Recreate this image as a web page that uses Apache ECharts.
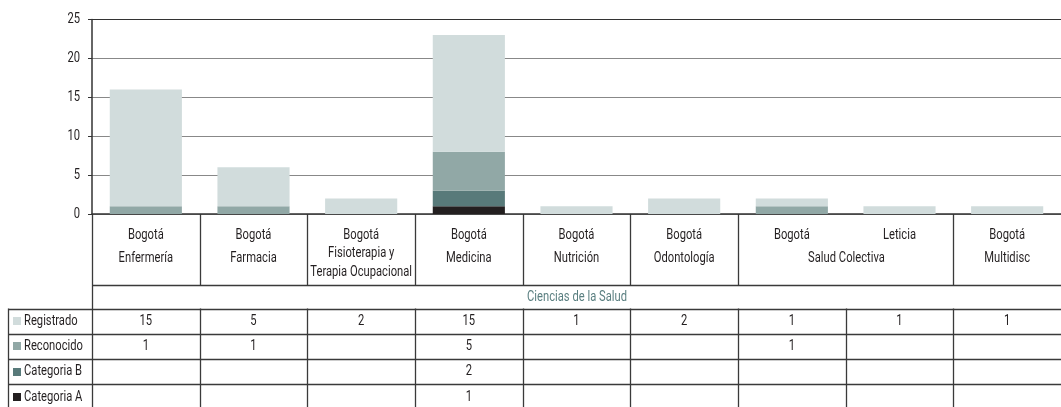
<!DOCTYPE html>
<html>
<head>
<meta charset="utf-8">
<script src="https://cdn.jsdelivr.net/npm/echarts@6/dist/echarts.min.js"></script>
<style>
  html, body { margin: 0; padding: 0; background: #fff; }
  #chart { width: 1061px; height: 407px; }
</style>
</head>
<body>
<div id="chart"></div>
<script>
var FONT = 'Roboto, "Noto Sans", sans-serif';
var SQUEEZE = 0.8; // no condensed face installed, so narrow the text

// data
var sedes = ['Bogotá', 'Bogotá', 'Bogotá', 'Bogotá', 'Bogotá', 'Bogotá', 'Bogotá', 'Leticia', 'Bogotá'];
var programas = ['Enfermería', 'Farmacia', 'Fisioterapia y\nTerapia Ocupacional', 'Medicina', 'Nutrición', 'Odontología', 'Salud Colectiva', 'Salud Colectiva', 'Multidisc'];
var area = 'Ciencias de la Salud';
var registrado = [15, 5, 2, 15, 1, 2, 1, 1, 1];
var reconocido = [1, 1, null, 5, null, null, 1, null, null];
var categoriaB = [null, null, null, 2, null, null, null, null, null];
var categoriaA = [null, null, null, 1, null, null, null, null, null];
var yTicks = [0, 5, 10, 15, 20, 25];

var seriesNames = ['Registrado', 'Reconocido', 'Categoria B', 'Categoria A'];
var seriesData = [registrado, reconocido, categoriaB, categoriaA];
var colors = ['#d1dcdc', '#91a8a6', '#587a7a', '#231f20'];

var chart = echarts.init(document.getElementById('chart'));

var series = [];
for (var s = seriesNames.length - 1; s >= 0; s--) {
  series.push({
    name: seriesNames[s],
    type: 'bar',
    stack: 'total',
    barWidth: '67%',
    data: seriesData[s],
    itemStyle: { color: colors[s], borderWidth: 0 },
    silent: true
  });
}

chart.setOption({
  animation: false,
  grid: { left: 92, right: -9, top: 19.5, bottom: 193 },
  xAxis: {
    type: 'category',
    data: sedes.map(function (d, i) { return d + ' ' + programas[i]; }),
    axisLine: { lineStyle: { color: '#333', width: 1.5 } },
    axisTick: { show: false },
    axisLabel: { show: false }
  },
  yAxis: {
    type: 'value',
    min: yTicks[0],
    max: yTicks[yTicks.length - 1],
    interval: 5,
    axisLine: { show: true, lineStyle: { color: '#333', width: 1.5 } },
    axisTick: { show: true, length: 4, lineStyle: { color: '#333' } },
    axisLabel: { show: false },
    splitLine: { lineStyle: { color: ['#888', '#888', '#888', '#888', '#888', '#333'], width: 1.2 } }
  },
  series: series
});

// table under the chart, placed from the category axis
function buildTable() {
  var n = sedes.length;
  var c0 = chart.convertToPixel({ xAxisIndex: 0 }, 0);
  var c1 = chart.convertToPixel({ xAxisIndex: 0 }, 1);
  var band = c1 - c0;
  var centers = [], bounds = [];
  for (var i = 0; i < n; i++) centers.push(chart.convertToPixel({ xAxisIndex: 0 }, i));
  for (var b = 0; b <= n; b++) bounds.push(Math.round(c0 - band / 2 + b * band) + 0.5);

  var yBase = chart.convertToPixel({ yAxisIndex: 0 }, 0);
  var rowHead = Math.round(yBase + 71) + 0.5;
  var rowArea = rowHead + 23;
  var rowH = 25.3;
  var leftX = 8.5;
  var W = 1061;
  var lineStyle = { stroke: '#3a3a3a', lineWidth: 1.3 };
  var els = [];

  function line(x1, y1, x2, y2) {
    els.push({ type: 'line', shape: { x1: x1, y1: y1, x2: x2, y2: y2 }, style: lineStyle, silent: true });
  }
  function text(t, x, y, opts) {
    opts = opts || {};
    els.push({
      type: 'text', silent: true,
      x: x, y: y, scaleX: SQUEEZE,
      style: {
        text: t, x: 0, y: 0,
        font: '14px ' + FONT,
        fill: opts.fill || '#231f20',
        align: opts.align || 'center',
        verticalAlign: 'middle'
      }
    });
  }

  // y tick labels
  yTicks.forEach(function (t) {
    text(String(t), 80, chart.convertToPixel({ yAxisIndex: 0 }, t), { align: 'right' });
  });

  // left axis continues down through the table
  line(bounds[0], yBase, bounds[0], 407);
  // header separators (Salud Colectiva spans two columns)
  for (var k = 1; k < n; k++) {
    if (programas[k] === programas[k - 1]) continue;
    line(bounds[k], yBase, bounds[k], rowHead);
  }
  line(bounds[0], rowHead, W, rowHead);
  // data rows
  for (var r = 0; r <= seriesNames.length; r++) {
    var ly = Math.round(rowArea + r * rowH) + 0.5;
    line(leftX, ly, W, ly);
  }
  line(leftX, rowArea, leftX, 407);
  for (var k2 = 1; k2 < n; k2++) line(bounds[k2], rowArea, bounds[k2], 407);

  // header labels
  for (var j = 0; j < n; j++) {
    var lines = programas[j].split('\n');
    text(sedes[j], centers[j], yBase + 21);
    if (j > 0 && programas[j] === programas[j - 1]) continue;
    if (j < n - 1 && programas[j] === programas[j + 1]) {
      text(programas[j], bounds[j + 1], yBase + 44);
    } else if (lines.length > 1) {
      text(lines[0], centers[j], yBase + 39.5);
      text(lines[1], centers[j], yBase + 58);
    } else {
      text(lines[0], centers[j], yBase + 44);
    }
  }
  text(area, (bounds[0] + bounds[n]) / 2, rowHead + 11.5, { fill: '#5a7f80' });

  // data rows with legend keys
  for (var s = 0; s < seriesNames.length; s++) {
    var cy = rowArea + s * rowH + rowH / 2;
    els.push({ type: 'rect', silent: true, shape: { x: 13, y: Math.round(cy - 4), width: 8, height: 8 }, style: { fill: colors[s] } });
    text(seriesNames[s], 24, cy, { align: 'left' });
    for (var q = 0; q < n; q++) {
      var v = seriesData[s][q];
      if (v != null) text(String(v), centers[q], cy);
    }
  }

  chart.setOption({ graphic: { elements: els } });
}

buildTable();
</script>
</body>
</html>
